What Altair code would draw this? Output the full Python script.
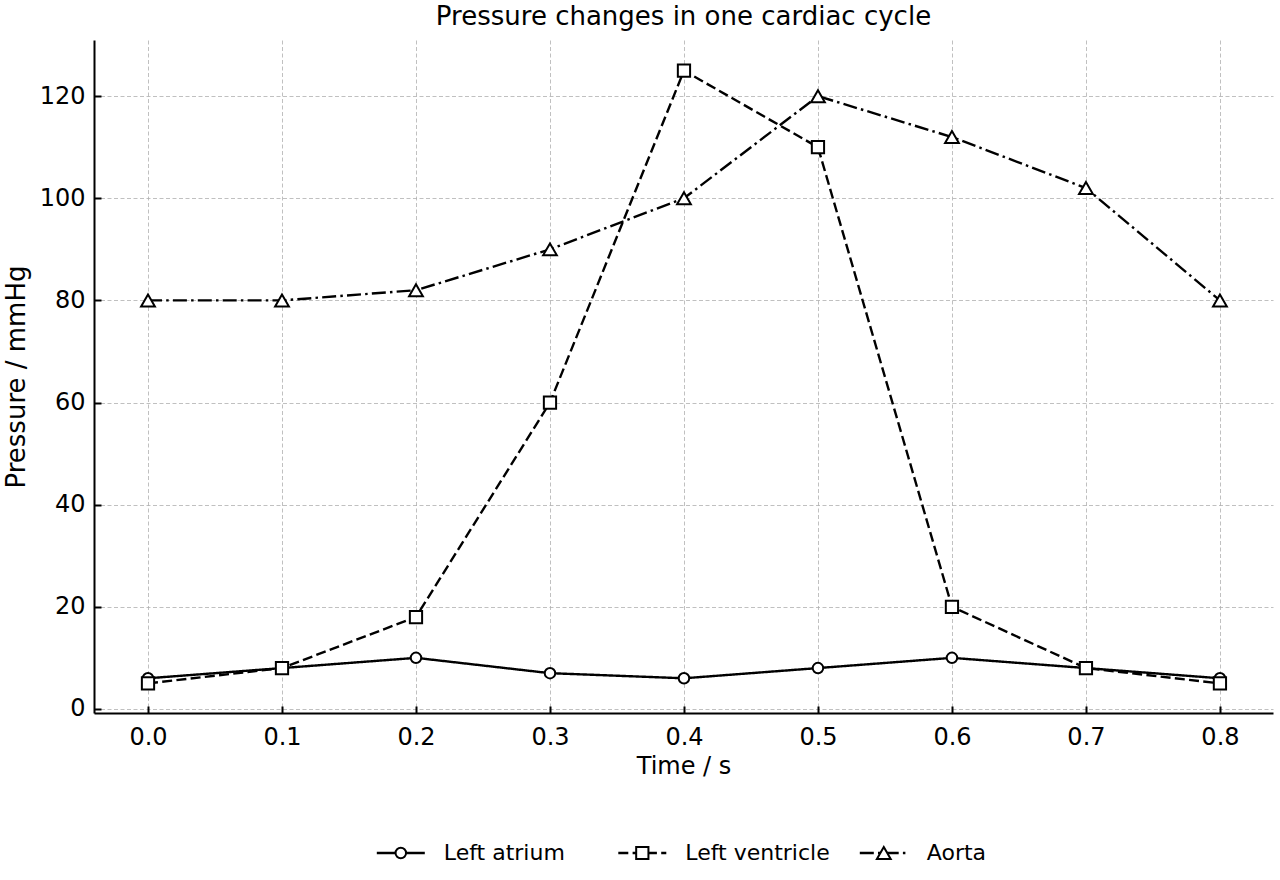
import altair as alt
import pandas as pd

# Pressure readings over one cardiac cycle (mmHg), sampled every 0.1 s
time_s = [0.0, 0.1, 0.2, 0.3, 0.4, 0.5, 0.6, 0.7, 0.8]
left_atrium = [6, 8, 10, 7, 6, 8, 10, 8, 6]
left_ventricle = [5, 8, 18, 60, 125, 110, 20, 8, 5]
aorta = [80, 80, 82, 90, 100, 120, 112, 102, 80]

series_names = ["Left atrium", "Left ventricle", "Aorta"]
x_ticks = [0.0, 0.1, 0.2, 0.3, 0.4, 0.5, 0.6, 0.7, 0.8]
y_ticks = [0, 20, 40, 60, 80, 100, 120]

rows = []
for name, values in zip(series_names, [left_atrium, left_ventricle, aorta]):
    for t, v in zip(time_s, values):
        rows.append({"time": t, "pressure": v, "series": name})
df = pd.DataFrame(rows)
legend_df = pd.DataFrame({"series": series_names})

FONT = "DejaVu Sans"
PLOT_W, PLOT_H = 1179, 673
LEGEND_Y = 813  # legend row, measured down from the top of the plot area

# line styles: solid, dashed, dash-dot
dash_styles = [[1, 0], [10, 4.3], [14, 4.2, 2.5, 4.2]]
marker_shapes = ["circle", "square", "triangle-up"]
marker_sizes = [110, 190, 210]

dash_enc = alt.StrokeDash(
    "series:N", scale=alt.Scale(domain=series_names, range=dash_styles), legend=None
)
shape_enc = alt.Shape(
    "series:N", scale=alt.Scale(domain=series_names, range=marker_shapes), legend=None
)
size_enc = alt.Size(
    "series:N", scale=alt.Scale(domain=series_names, range=marker_sizes), legend=None
)

x_enc = alt.X(
    "time:Q",
    scale=alt.Scale(domain=[-0.0403, 0.8396], nice=False, zero=False),
    axis=alt.Axis(
        values=x_ticks,
        format=".1f",
        title="Time / s",
        titleY=60,
        titleBaseline="alphabetic",
        titleFontSize=24,
        labelPadding=19,
    ),
)
y_enc = alt.Y(
    "pressure:Q",
    scale=alt.Scale(domain=[-0.8, 131], nice=False, zero=False),
    axis=alt.Axis(
        values=y_ticks,
        title="Pressure / mmHg",
        titleX=-78,
        titleBaseline="middle",
        titleFontSize=26,
        labelPadding=16,
    ),
)

lines = alt.Chart(df).mark_line(color="black", strokeWidth=2.4).encode(
    x=x_enc, y=y_enc, strokeDash=dash_enc
)

markers = alt.Chart(df).mark_point(
    fill="white", stroke="black", strokeWidth=2, opacity=1, filled=False
).encode(x=x_enc, y=y_enc, shape=shape_enc, size=size_enc)

plot = alt.layer(lines, markers)

# legend row: entries numbered 1..3 and spread along their own linear scale
legend_base = alt.Chart(legend_df).transform_window(entry="row_number()")
legend_x = alt.X(
    "entry:Q",
    scale=alt.Scale(domain=[-0.2704, 4.6116], nice=False, zero=False),
    axis=None,
)

legend_lines = legend_base.mark_rule(
    color="black", strokeWidth=2.4, xOffset=-24, x2Offset=24
).encode(
    x=legend_x,
    x2=alt.X2("entry:Q"),
    y=alt.value(LEGEND_Y),
    strokeDash=dash_enc,
)

legend_markers = legend_base.mark_point(
    fill="white", stroke="black", strokeWidth=2, opacity=1, filled=False
).encode(
    x=legend_x,
    y=alt.value(LEGEND_Y),
    shape=shape_enc,
    size=size_enc,
)

legend_labels = legend_base.mark_text(
    align="left",
    baseline="middle",
    font=FONT,
    fontSize=22,
    color="black",
    xOffset=43,
).encode(
    x=legend_x,
    y=alt.value(LEGEND_Y),
    text="series:N",
)

legend_row = alt.layer(legend_lines, legend_markers, legend_labels)

chart = (
    alt.layer(plot, legend_row)
    .resolve_scale(x="independent")
    .properties(
        width=PLOT_W,
        height=PLOT_H,
        title=alt.TitleParams(
            "Pressure changes in one cardiac cycle",
            font=FONT,
            fontSize=26,
            fontWeight="normal",
            color="black",
            anchor="middle",
            frame="group",
            baseline="alphabetic",
            offset=13,
            dy=24,
        ),
        autosize=alt.AutoSizeParams(type="none"),
        padding={"left": 94, "top": 40, "right": 7, "bottom": 167},
    )
    .configure_view(strokeWidth=0)
    .configure_axis(
        grid=True,
        gridColor="#b0b0b0",
        gridDash=[4, 2.5],
        gridWidth=0.8,
        domainColor="black",
        domainWidth=2,
        tickColor="black",
        tickWidth=2,
        tickSize={"expr": "-7"},
        labelFont=FONT,
        labelFontSize=24,
        labelColor="black",
        titleFont=FONT,
        titleFontWeight="normal",
        titleColor="black",
    )
)

chart.save("out.html", embed_options={"renderer": "svg", "actions": False})
